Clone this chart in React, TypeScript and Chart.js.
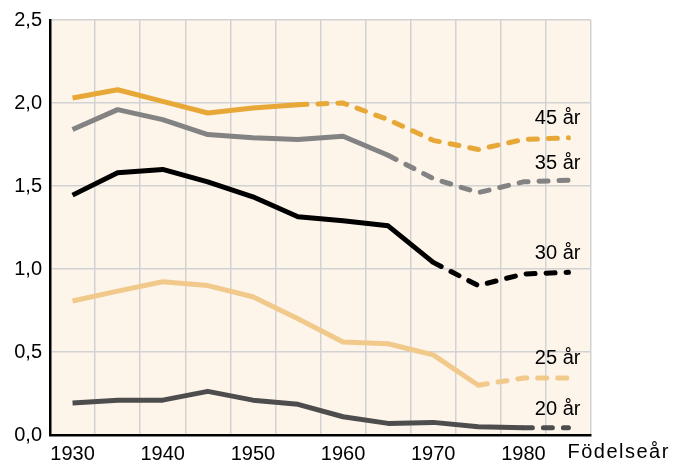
import React, { useEffect, useRef } from "react";
import { Chart, registerables } from "chart.js";

Chart.register(...registerables);

const years = ["1930", "1935", "1940", "1945", "1950", "1955", "1960", "1965", "1970", "1975", "1980", "1985"];
const yTickValues = [0, 0.5, 1, 1.5, 2, 2.5];

const age45 = [2.03, 2.08, 2.01, 1.94, 1.97, 1.99, 2.0, 1.9, 1.775, 1.72, 1.78, 1.79];
const age35 = [1.84, 1.96, 1.9, 1.81, 1.79, 1.78, 1.8, 1.685, 1.545, 1.46, 1.525, 1.535];
const age30 = [1.445, 1.58, 1.6, 1.525, 1.435, 1.315, 1.29, 1.26, 1.04, 0.9, 0.97, 0.98];
const age25 = [0.807, 0.867, 0.923, 0.9, 0.833, 0.7, 0.56, 0.55, 0.483, 0.3, 0.343, 0.343];
const age20 = [0.193, 0.21, 0.21, 0.263, 0.21, 0.185, 0.11, 0.07, 0.076, 0.05, 0.044, 0.044];

const seriesNames = ["45 år", "35 år", "30 år", "25 år", "20 år"];
const seriesColors = ["#E8A838", "#838383", "#000000", "#F1C98B", "#4D4D4D"];
const dashStartIndex = [5, 7, 8, 9, 10];
const labelValues = [1.905, 1.635, 1.096, 0.462, 0.154];
const xAxisTitle = "Födelseår";

const FONT = "'Liberation Sans', Arial, sans-serif";

export default function App() {
  const ref = useRef<HTMLCanvasElement | null>(null);

  useEffect(() => {
    const canvas = ref.current;
    if (!canvas) return;
    const seriesValues = [age45, age35, age30, age25, age20];

    const bgPlugin = {
      id: "bgPlugin",
      beforeDraw(chart: any) {
        const { ctx, chartArea } = chart;
        ctx.save();
        ctx.fillStyle = "#FDF4EA";
        ctx.fillRect(chartArea.left, chartArea.top, chartArea.right - chartArea.left, chartArea.bottom - chartArea.top);
        ctx.restore();
      },
      afterDraw(chart: any) {
        const { ctx } = chart;
        const xs = chart.scales.x;
        const ys = chart.scales.y;
        ctx.save();
        ctx.font = `20px ${FONT}`;
        ctx.fillStyle = "#000";
        ctx.textAlign = "right";
        ctx.textBaseline = "middle";
        const xr = xs.getPixelForValue(years.length - 1) + 12;
        seriesNames.forEach((n, i) => {
          ctx.fillText(n, xr, ys.getPixelForValue(labelValues[i]));
        });
        ctx.textAlign = "left";
        try {
          (ctx as any).letterSpacing = "1.5px";
        } catch (e) {}
        ctx.fillText(xAxisTitle, xs.getPixelForValue(years.length - 1) - 1, ys.bottom + 17);
        ctx.restore();
      },
    };

    const chart = new Chart(canvas, {
      type: "line",
      data: {
        labels: years,
        datasets: seriesNames.map((name, i) => ({
          label: name,
          data: seriesValues[i],
          borderColor: seriesColors[i],
          backgroundColor: seriesColors[i],
          borderWidth: 5,
          pointRadius: 0,
          tension: 0,
          fill: false,
          borderJoinStyle: "round" as const,
          segment: {
            borderDash: (ctx: any) => (ctx.p0DataIndex >= dashStartIndex[i] ? [9, 11] : undefined),
            borderCapStyle: (ctx: any) => (ctx.p0DataIndex >= dashStartIndex[i] ? "round" : "butt"),
          },
        })),
      },
      options: {
        responsive: false,
        animation: false,
        layout: { padding: { left: 0, top: 17, right: 82, bottom: 0 } },
        plugins: {
          legend: { display: false },
          tooltip: { enabled: false },
        },
        scales: {
          x: {
            type: "category",
            offset: true,
            grid: { display: true, offset: true, color: "#D2D2D2", lineWidth: 1.5, drawTicks: false },
            border: { display: true, color: "#000", width: 2.5 },
            ticks: {
              autoSkip: false,
              maxRotation: 0,
              padding: 7,
              color: "#000",
              font: { family: FONT, size: 20 },
              callback: (v: any, idx: number) => (idx % 2 === 0 && idx < years.length - 1 ? years[idx] : ""),
            },
            afterFit: (s: any) => {
              s.height = 26;
            },
          },
          y: {
            min: 0,
            max: 2.5,
            afterBuildTicks: (s: any) => {
              s.ticks = yTickValues.map((v) => ({ value: v }));
            },
            grid: { color: "#D2D2D2", lineWidth: 1.5, drawTicks: false },
            border: { display: true, color: "#000", width: 2.5 },
            ticks: {
              padding: 8,
              color: "#000",
              font: { family: FONT, size: 20 },
              callback: (v: any) => Number(v).toFixed(1).replace(".", ","),
            },
            afterFit: (s: any) => {
              s.width = 50;
            },
          },
        },
      },
      plugins: [bgPlugin],
    });

    return () => chart.destroy();
  }, []);

  return (
    <div style={{ position: "absolute", left: 0, top: 0, width: 673, height: 461, background: "#fff" }}>
      <canvas ref={ref} width={673} height={461} style={{ display: "block", width: 673, height: 461 }} />
    </div>
  );
}
